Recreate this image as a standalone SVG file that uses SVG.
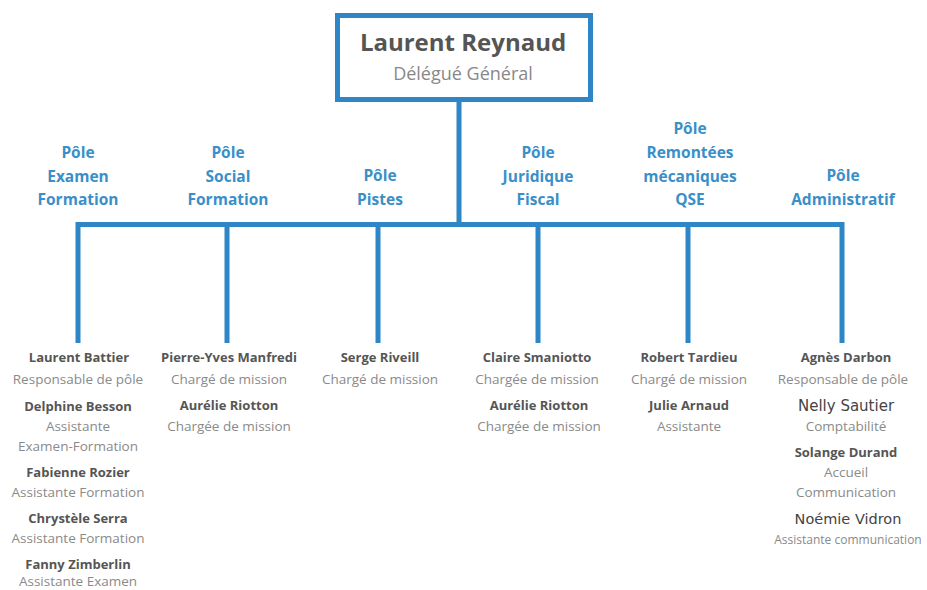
<svg xmlns="http://www.w3.org/2000/svg" width="927" height="590" viewBox="0 0 927 590">
<style>
text{font-family:"Open Sans","Liberation Sans",sans-serif;text-anchor:middle}
.ln{stroke:#2f86c6;stroke-width:5;fill:none}
.pole{font-size:15.5px;font-weight:bold;fill:#3a8fc8}
.nm{font-size:13px;font-weight:bold;fill:#555}
.rl{font-size:13.5px;fill:#8a8a8a}
.dv{font-family:"DejaVu Sans",sans-serif;font-weight:normal;fill:#444}
</style>
<rect width="927" height="590" fill="#fff"/>
<g id="connectors">
<path class="ln" d="M459 99V224.5M75.5 224.5H844.5M78 222V343M227 222V343M378 222V343M538 222V343M688 222V343M842 222V343"/>
</g>
<g id="director">
<rect class="ln" x="337.5" y="15.5" width="253" height="84"/>
<text x="463" y="51" style="font-size:24px;font-weight:bold;fill:#555">Laurent Reynaud</text>
<text x="463" y="80" style="font-size:18px;fill:#888">Délégué Général</text>
</g>
<g id="pole-examen">
<text class="pole" x="78" y="158">Pôle</text>
<text class="pole" x="78" y="182">Examen</text>
<text class="pole" x="78" y="205">Formation</text>
<text class="nm" x="79" y="362">Laurent Battier</text>
<text class="rl" x="78" y="384">Responsable de pôle</text>
<text class="nm" x="78" y="411">Delphine Besson</text>
<text class="rl" x="78" y="431">Assistante</text>
<text class="rl" x="78" y="451">Examen-Formation</text>
<text class="nm" x="78" y="477">Fabienne Rozier</text>
<text class="rl" x="78" y="497">Assistante Formation</text>
<text class="nm" x="78" y="523">Chrystèle Serra</text>
<text class="rl" x="78" y="543">Assistante Formation</text>
<text class="nm" x="78" y="569">Fanny Zimberlin</text>
<text class="rl" x="78" y="586">Assistante Examen</text>
</g>
<g id="pole-social">
<text class="pole" x="228" y="158">Pôle</text>
<text class="pole" x="228" y="182">Social</text>
<text class="pole" x="228" y="205">Formation</text>
<text class="nm" x="229" y="362">Pierre-Yves Manfredi</text>
<text class="rl" x="229" y="384">Chargé de mission</text>
<text class="nm" x="229" y="410">Aurélie Riotton</text>
<text class="rl" x="229" y="431">Chargée de mission</text>
</g>
<g id="pole-pistes">
<text class="pole" x="380" y="181">Pôle</text>
<text class="pole" x="380" y="205">Pistes</text>
<text class="nm" x="380" y="362">Serge Riveill</text>
<text class="rl" x="380" y="384">Chargé de mission</text>
</g>
<g id="pole-juridique">
<text class="pole" x="538" y="158">Pôle</text>
<text class="pole" x="538" y="182">Juridique</text>
<text class="pole" x="538" y="205">Fiscal</text>
<text class="nm" x="537" y="362">Claire Smaniotto</text>
<text class="rl" x="537" y="384">Chargée de mission</text>
<text class="nm" x="539" y="410">Aurélie Riotton</text>
<text class="rl" x="539" y="431">Chargée de mission</text>
</g>
<g id="pole-remontees">
<text class="pole" x="690" y="134">Pôle</text>
<text class="pole" x="690" y="158">Remontées</text>
<text class="pole" x="690" y="182">mécaniques</text>
<text class="pole" x="690" y="205">QSE</text>
<text class="nm" x="689" y="362">Robert Tardieu</text>
<text class="rl" x="689" y="384">Chargé de mission</text>
<text class="nm" x="689" y="410">Julie Arnaud</text>
<text class="rl" x="689" y="431">Assistante</text>
</g>
<g id="pole-administratif">
<text class="pole" x="843" y="181">Pôle</text>
<text class="pole" x="843" y="205">Administratif</text>
<text class="nm" x="846" y="362">Agnès Darbon</text>
<text class="rl" x="843" y="384">Responsable de pôle</text>
<text class="dv" x="846" y="411" style="font-size:15px">Nelly Sautier</text>
<text class="rl" x="846" y="431">Comptabilité</text>
<text class="nm" x="846" y="457">Solange Durand</text>
<text class="rl" x="846" y="477">Accueil</text>
<text class="rl" x="846" y="497">Communication</text>
<text class="dv" x="848" y="524" style="font-size:14.5px">Noémie Vidron</text>
<text class="rl" x="848" y="544" style="font-size:12px">Assistante communication</text>
</g>
</svg>
